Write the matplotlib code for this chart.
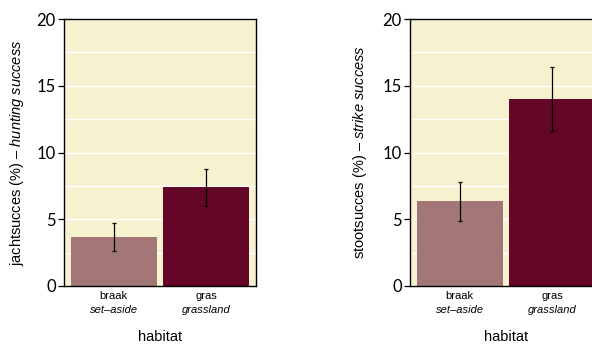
import matplotlib
matplotlib.use('Agg')
import matplotlib.pyplot as plt
import matplotlib.transforms as mtransforms

# habitat categorieen (nl / en)
cat_nl = ['braak', 'gras']
cat_en = ['set\u2013aside', 'grassland']

# jachtsucces (%) met onder- en bovengrens
jacht = [3.7, 7.4]
jacht_lo = [2.6, 6.0]
jacht_hi = [4.7, 8.8]

# stootsucces (%) met onder- en bovengrens
stoot = [6.35, 14.0]
stoot_lo = [4.85, 11.6]
stoot_hi = [7.8, 16.4]

kleuren = ['#a37677', '#640727']
achtergrond = '#f6f2d0'

plt.rcParams['font.family'] = 'Liberation Sans'
plt.rcParams['mathtext.fontset'] = 'custom'
plt.rcParams['mathtext.rm'] = 'Liberation Sans'
plt.rcParams['mathtext.it'] = 'Liberation Sans:italic'

fig = plt.figure(figsize=(5.92, 3.44), dpi=100)
W, H = 592, 344


def paneel(left_px, waarden, lo, hi, ylabel, ylab_x):
    ax = fig.add_axes([left_px / W, (H - 286) / H, 192 / W, 267 / H])
    ax.set_facecolor(achtergrond)
    x = [0, 1]
    fouten = [[w - l for w, l in zip(waarden, lo)], [h - w for w, h in zip(waarden, hi)]]
    ax.bar(x, waarden, width=0.925, color=kleuren, zorder=2)
    ax.errorbar(x, waarden, yerr=fouten, fmt='none', ecolor='black',
                elinewidth=0.9, capsize=1.5, capthick=0.9, zorder=3)
    ax.set_xlim(-0.5376, 1.5376)
    ax.set_ylim(0, 20)
    ax.set_yticks([0, 5, 10, 15, 20])
    ax.set_yticks([2.5, 7.5, 12.5, 17.5], minor=True)
    ax.yaxis.grid(True, which='both', color='white', linewidth=1.0, zorder=1)
    ax.set_axisbelow(True)
    ax.tick_params(axis='y', which='major', length=4, width=0.9, labelsize=12, pad=2)
    ax.tick_params(axis='y', which='minor', length=0)
    for lab in ax.get_yticklabels():
        lab.set_fontfamily('Lato')
    ax.set_xticks([])
    for s in ax.spines.values():
        s.set_linewidth(1.0)
    trans = mtransforms.blended_transform_factory(ax.transData, ax.transAxes)
    for xi, nl, en in zip(x, cat_nl, cat_en):
        ax.text(xi, -0.037, nl, transform=trans, ha='center', va='center', fontsize=8)
        ax.text(xi, -0.09, en, transform=trans, ha='center', va='center', fontsize=8, style='italic')
    ax.text(0.5, -0.19, 'habitat', transform=ax.transAxes, ha='center', va='center', fontsize=10.5)
    ax.text(ylab_x, 0.5, ylabel, transform=ax.transAxes, rotation=90,
            ha='center', va='center', fontsize=10.5)
    return ax


paneel(64, jacht, jacht_lo, jacht_hi,
       'jachtsucces (%) \u2013 $\\mathit{hunting\\ success}$', -0.245)
paneel(410, stoot, stoot_lo, stoot_hi,
       'stootsucces (%) \u2013 $\\mathit{strike\\ success}$', -0.26)

fig.savefig('out.png', dpi=100)
